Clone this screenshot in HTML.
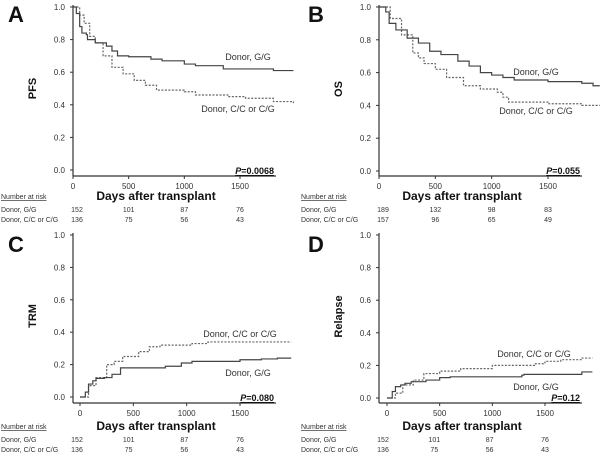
<!DOCTYPE html>
<html><head><meta charset="utf-8"><style>
body{margin:0;background:#fff}
svg{display:block;font-family:"Liberation Sans",Arial,sans-serif}
</style></head><body>
<svg id="fig" width="600" height="460" viewBox="0 0 600 460"></svg>
<script>
const panelLetters=["A","B","C","D"];
const yTitles=["PFS","OS","TRM","Relapse"];
const pValues=["0.0068","0.055","0.080","0.12"];
const yTicks=[0,0.2,0.4,0.6,0.8,1.0];
const xTicks=[0,500,1000,1500];
const riskDays=[0,500,1000,1500];
const riskGG=[[152,101,87,76],[189,132,98,83],[152,101,87,76],[152,101,87,76]];
const riskCC=[[136,75,56,43],[157,96,65,49],[136,75,56,43],[136,75,56,43]];
const aGG=[[0,1],[30,0.96],[60,0.88],[80,0.84],[120,0.83],[130,0.8],[200,0.78],[300,0.76],[350,0.73],[400,0.7],[500,0.695],[700,0.68],[800,0.67],[1000,0.65],[1100,0.64],[1350,0.62],[1800,0.61],[1980,0.61]];
const aCC=[[0,1],[60,0.95],[100,0.9],[150,0.82],[200,0.78],[270,0.7],[350,0.63],[450,0.59],[550,0.55],[650,0.52],[750,0.49],[1000,0.48],[1100,0.46],[1400,0.45],[1550,0.44],[1800,0.42],[1980,0.41]];
const bGG=[[0,1],[60,0.97],[90,0.9],[150,0.86],[250,0.81],[350,0.78],[450,0.73],[550,0.71],[700,0.67],[800,0.64],[900,0.6],[1000,0.585],[1100,0.57],[1200,0.555],[1500,0.545],[1800,0.535],[1900,0.52],[1960,0.52]];
const bCC=[[0,1],[100,0.93],[200,0.83],[300,0.72],[350,0.69],[400,0.655],[500,0.62],[600,0.57],[750,0.52],[900,0.5],[1050,0.48],[1100,0.45],[1150,0.42],[1500,0.41],[1800,0.4],[1960,0.4]];
const cGG=[[0,0],[50,0.03],[80,0.08],[120,0.1],[150,0.115],[230,0.12],[300,0.14],[380,0.18],[800,0.19],[950,0.21],[1050,0.22],[1500,0.23],[1700,0.235],[1850,0.24],[1980,0.24]];
const cCC=[[0,0],[80,0.07],[150,0.12],[250,0.2],[320,0.22],[400,0.25],[550,0.28],[650,0.31],[750,0.32],[1050,0.33],[1200,0.34],[1980,0.34]];
const dGG=[[0,0],[50,0.04],[80,0.07],[130,0.08],[170,0.09],[230,0.1],[370,0.11],[500,0.125],[600,0.13],[1280,0.14],[1300,0.145],[1850,0.16],[1950,0.16]];
const dCC=[[0,0],[80,0.03],[150,0.08],[250,0.11],[350,0.15],[500,0.165],[700,0.18],[1000,0.2],[1400,0.21],[1500,0.225],[1650,0.235],[1850,0.245],[1950,0.245]];
const seriesGG=[aGG,bGG,cGG,dGG];
const seriesCC=[aCC,bCC,cCC,dCC];

const layout=[
 {ox:0,oy:0,ax:73,x0:73,x1500:240,y1:7,y0:170,xl:176,axEnd:276,ggLab:[248,60],ccLab:[238,112]},
 {ox:300,oy:0,ax:379,x0:379,x1500:548,y1:7,y0:171,xl:176,axEnd:582,ggLab:[536,75],ccLab:[536,114]},
 {ox:0,oy:230,ax:73,x0:80,x1500:240,y1:235,y0:397,xl:403,axEnd:276,ggLab:[248,376],ccLab:[240,337]},
 {ox:300,oy:230,ax:379,x0:387,x1500:545,y1:235,y0:398,xl:403,axEnd:582,ggLab:[536,390],ccLab:[534,357]}
];
const svg=document.getElementById('fig');
const NS='http://www.w3.org/2000/svg';
function mk(tag,attrs,parent){const e=document.createElementNS(NS,tag);for(const k in attrs)e.setAttribute(k,attrs[k]);(parent||svg).appendChild(e);return e;}
function txt(s,attrs,parent){const e=mk('text',attrs,parent);e.textContent=s;return e;}

layout.forEach((L,i)=>{
  const g=mk('g',{});
  
  
  const sx=d=>L.x0+(L.x1500-L.x0)*d/1500;
  const sy=v=>L.y0+(L.y1-L.y0)*v;
  const let_=txt(panelLetters[i],{x:L.ox+8,y:L.oy+22,'font-size':22,'font-weight':'bold',fill:'#111'},g);
  
  
  const ya=mk('line',{x1:L.ax,y1:L.y1-2,x2:L.ax,y2:L.xl,stroke:'#333','stroke-width':1.2},g);
  
  
  const xa=mk('line',{x1:L.ax,y1:L.xl,x2:L.axEnd,y2:L.xl,stroke:'#333','stroke-width':1.2},g);
  
  
  yTicks.forEach(t=>{
    const y=sy(t);
    mk('line',{x1:L.ax-3,y1:y,x2:L.ax,y2:y,stroke:'#333'},g);
    const tl=txt(t.toFixed(1),{x:L.ax-8,y:y+3,'font-size':8,'text-anchor':'end',fill:'#333'},g);
    
    
  });
  xTicks.forEach(t=>{
    const x=sx(t);
    mk('line',{x1:x,y1:L.xl,x2:x,y2:L.xl+3,stroke:'#333'},g);
    const tl=txt(String(t),{x:x,y:L.xl+13,'font-size':8,'text-anchor':'middle',fill:'#333'},g);
    
    
  });
  const yt=txt(yTitles[i],{x:0,y:0,'font-size':11,'font-weight':'bold','text-anchor':'middle',fill:'#111',transform:`translate(${L.ax-37},${(L.y1+L.y0)/2}) rotate(-90)`},g);
  
  
  const xt=txt('Days after transplant',{x:L.ax+83,y:L.oy+200,'font-size':12,'font-weight':'bold','text-anchor':'middle',fill:'#111'},g);
  
  
  const pv=mk('text',{x:L.axEnd-2,y:L.xl-2,'font-size':9,'font-weight':'bold','text-anchor':'end',fill:'#111','text-decoration':'underline'},g);
  pv.innerHTML='<tspan font-style="italic">P</tspan>='+pValues[i];
  
  
  function step(data,dashed,name){
    let d='M'+sx(data[0][0])+','+sy(data[0][1]);
    for(let k=1;k<data.length;k++){d+=' H'+sx(data[k][0])+' V'+sy(data[k][1]);}
    const p=mk('path',{d:d,fill:'none',stroke:dashed?'#666':'#444','stroke-width':1.2,'stroke-dasharray':dashed?'2,1.5':'none'},g);
    
    
  }
  step(seriesCC[i],true,'curve-donor-cc-cg');
  step(seriesGG[i],false,'curve-donor-gg');
  const l1=txt('Donor, G/G',{x:L.ggLab[0],y:L.ggLab[1],'font-size':9,'text-anchor':'middle',fill:'#333'},g);
  
  
  const l2=txt('Donor, C/C or C/G',{x:L.ccLab[0],y:L.ccLab[1],'font-size':9,'text-anchor':'middle',fill:'#333'},g);
  
  
  const nr=txt('Number at risk',{x:L.ox+1,y:L.oy+199,'font-size':7,fill:'#333','text-decoration':'underline'},g);
  
  
  txt('Donor, G/G',{x:L.ox+1,y:L.oy+212,'font-size':7,fill:'#333'},g);
  txt('Donor, C/C or C/G',{x:L.ox+1,y:L.oy+222,'font-size':7,fill:'#333'},g);
  riskDays.forEach((dd,k)=>{
    const x=L.ax+(L.x1500-L.ax)*dd/1500+(k==0?4:0);
    const a=txt(String(riskGG[i][k]),{x:x,y:L.oy+212,'font-size':7,'text-anchor':'middle',fill:'#333'},g);
    
    
    const b=txt(String(riskCC[i][k]),{x:x,y:L.oy+222,'font-size':7,'text-anchor':'middle',fill:'#333'},g);
    
    
  });
});
</script>
</body></html>
